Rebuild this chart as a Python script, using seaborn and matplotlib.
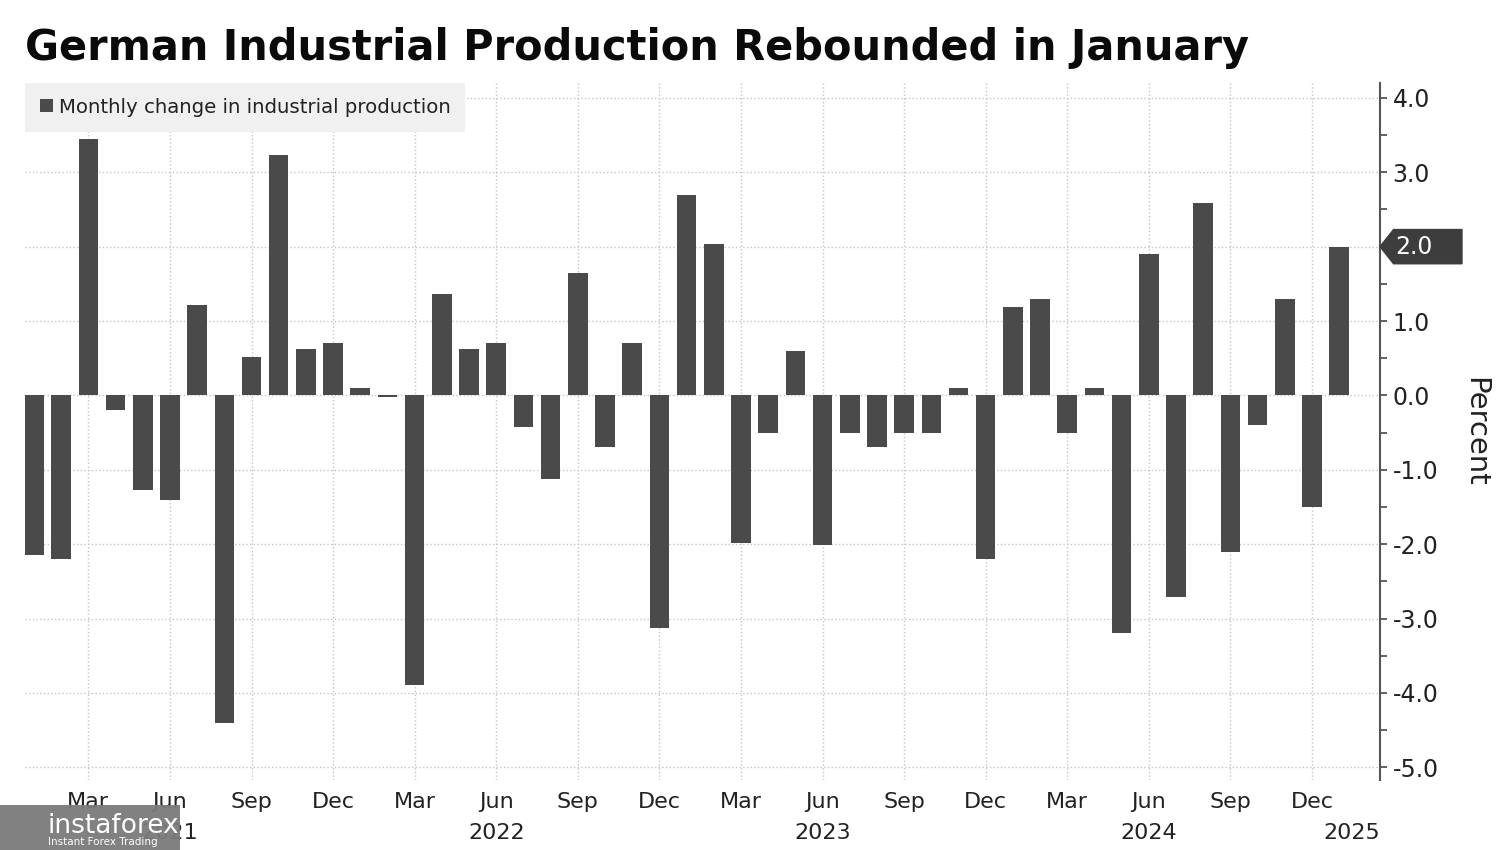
import numpy as np
import pandas as pd
import matplotlib.pyplot as plt
import matplotlib.transforms as mtransforms
from matplotlib.patches import Patch, Polygon, Rectangle
from matplotlib.ticker import AutoMinorLocator
import seaborn as sns


# monthly change in German industrial production, Jan 2021 - Jan 2025 (%)
months = pd.period_range('2021-01', '2025-01', freq='M')
change = [-2.15, -2.2, 3.45, -0.2, -1.27, -1.4, 1.22, -4.4, 0.52, 3.23, 0.62, 0.7,
          0.1, -0.02, -3.89, 1.36, 0.62, 0.71, -0.42, -1.13, 1.64, -0.7, 0.71, -3.13,
          2.7, 2.03, -1.99, -0.51, 0.6, -2.01, -0.5, -0.7, -0.5, -0.5, 0.1, -2.2,
          1.19, 1.3, -0.5, 0.1, -3.2, 1.9, -2.71, 2.59, -2.1, -0.4, 1.3, -1.5, 2.0]
yticks = np.arange(-5, 5, 1.0)
tick_months = [3, 6, 9, 12]

title = 'German Industrial Production Rebounded in January'
series_name = 'Monthly change in industrial production'

bar_color = '#4a4a4a'
axis_color = '#555555'
text_color = '#222222'

sns.set_style('white')
plt.rcParams['font.family'] = ['DejaVu Sans']

df = pd.DataFrame({'month': months.strftime('%Y-%m'), 'change': change})

fig = plt.figure(figsize=(15, 8.5), dpi=100)
ax = fig.add_axes([25 / 1500, 70 / 850, 1355 / 1500, 697 / 850])

sns.barplot(data=df, x='month', y='change', color=bar_color, saturation=1,
            width=0.72, errorbar=None, linewidth=0, ax=ax, zorder=3)

# axes limits, ticks
ax.set_xlim(-0.33, len(df) + 0.5)
ax.set_ylim(-5.17, 4.2)
pos = [i for i, m in enumerate(months) if m.month in tick_months]
ax.set_xticks(pos, labels=[months[i].strftime('%b') for i in pos])
last = change[-1]
# the tick label under the last-value tag is hidden, as in the original
ax.set_yticks(yticks, labels=['' if abs(v - last) < 0.25 else f'{v:.1f}' for v in yticks])
ax.yaxis.set_minor_locator(AutoMinorLocator(2))
ax.yaxis.tick_right()
ax.yaxis.set_label_position('right')
ax.tick_params(axis='x', length=0, pad=9, labelsize=16, labelcolor=text_color)
ax.tick_params(axis='y', which='both', direction='out', length=5, width=1.3,
               color=axis_color, pad=4, labelsize=17, labelcolor=text_color)
ax.set_xlabel('')
ax.set_ylabel('Percent', rotation=270, fontsize=21, color=text_color, labelpad=36)

for side in ['left', 'top', 'bottom']:
    ax.spines[side].set_visible(False)
ax.spines['right'].set_color(axis_color)
ax.spines['right'].set_linewidth(1.5)

ax.grid(True, which='major', ls=':', lw=1, color='#c4c4c4', zorder=0)
ax.set_axisbelow(True)

# year labels under the month labels
trans = mtransforms.blended_transform_factory(ax.transData, ax.transAxes)
for yr in sorted(set(m.year for m in months)):
    jun = [i for i, m in enumerate(months) if m.year == yr and m.month == 6]
    if jun:
        ax.text(jun[0], -0.076, str(yr), transform=trans, ha='center', va='center',
                fontsize=16, color=text_color)
    else:
        ax.text(len(df) + 0.5, -0.076, str(yr), transform=trans, ha='right', va='center',
                fontsize=16, color=text_color)

# last value tag on the axis
tt = mtransforms.blended_transform_factory(ax.transAxes, ax.transData)
h = 0.23
tag = Polygon([(1.0, last), (1.01, last + h), (1.0605, last + h),
               (1.0605, last - h), (1.01, last - h)], closed=True,
              transform=tt, clip_on=False, fc='#3d3d3d', ec='#3d3d3d', zorder=5)
ax.add_patch(tag)
ax.text(1.0115, last, f'{last:.1f}', transform=tt, ha='left', va='center',
        fontsize=17, color='white', zorder=6)

# legend
handle = Patch(facecolor=bar_color, edgecolor='none', label=series_name)
leg = ax.legend(handles=[handle], loc='upper left', bbox_to_anchor=(0, 1.0),
                borderaxespad=0, frameon=True, fancybox=False, fontsize=14.2,
                handlelength=0.65, handleheight=0.65, handletextpad=0.3,
                borderpad=0.75)
leg.get_frame().set_facecolor('#f0f0f0')
leg.get_frame().set_edgecolor('none')
leg.get_frame().set_alpha(1)
for t in leg.get_texts():
    t.set_color(text_color)

fig.text(25 / 1500, 1 - 48 / 850, title, fontsize=29.9, fontweight='heavy',
         color='#0a0a0a', ha='left', va='center')

# watermark box bottom left
fig.patches.append(Rectangle((0, 0), 180 / 1500, 45 / 850, transform=fig.transFigure,
                             fc='#7a7a7a', ec='none', alpha=0.95, zorder=10))
fig.text(48 / 1500, 1 - 826 / 850, 'instaforex', fontsize=19, color='white',
         ha='left', va='center', zorder=11)
fig.text(48 / 1500, 1 - 842 / 850, 'Instant Forex Trading', fontsize=7.5, color='white',
         ha='left', va='center', zorder=11)

fig.savefig('out.png', dpi=100, facecolor='white')
